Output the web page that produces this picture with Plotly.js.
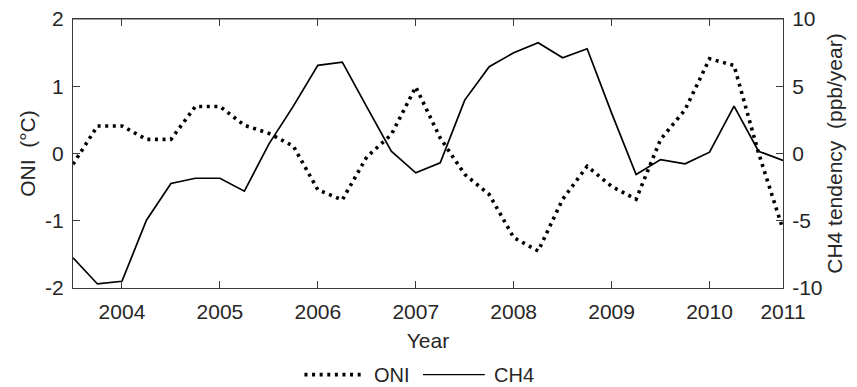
<!DOCTYPE html>
<html>
<head>
<meta charset="utf-8">
<script src="https://cdn.plot.ly/plotly-3.0.1.min.js"></script>
<style>
  html, body { margin: 0; padding: 0; background: #ffffff; }
  #chart { width: 857px; height: 387px; }
</style>
</head>
<body>
<div id="chart"></div>
<script>
// Quarterly time axis (decimal years)
const years = [
  2003.50, 2003.75, 2004.00, 2004.25, 2004.50, 2004.75,
  2005.00, 2005.25, 2005.50, 2005.75, 2006.00, 2006.25,
  2006.50, 2006.75, 2007.00, 2007.25, 2007.50, 2007.75,
  2008.00, 2008.25, 2008.50, 2008.75, 2009.00, 2009.25,
  2009.50, 2009.75, 2010.00, 2010.25, 2010.50, 2010.75
];

// Oceanic Nino Index (deg C)
const oni = [
  -0.16, 0.41, 0.41, 0.21, 0.21, 0.70,
   0.70, 0.42, 0.30, 0.11, -0.54, -0.69,
  -0.05, 0.28, 0.99, 0.23, -0.31, -0.61,
  -1.25, -1.45, -0.68, -0.19, -0.49, -0.68,
   0.21, 0.65, 1.41, 1.31, 0.01, -1.13
];

// CH4 growth tendency (ppb/year)
const ch4 = [
  -7.76, -9.70, -9.50, -4.96, -2.23, -1.84,
  -1.84, -2.80, 0.70, 3.52, 6.55, 6.79,
   3.47, 0.17, -1.44, -0.69, 3.97, 6.45,
   7.49, 8.24, 7.12, 7.79, 3.00, -1.56,
  -0.45, -0.77, 0.10, 3.52, 0.17, -0.52
];

// Axis tick labels
const xTickVals = [2004, 2005, 2006, 2007, 2008, 2009, 2010, 2010.75];
const xTickText = ['2004', '2005', '2006', '2007', '2008', '2009', '2010', '2011'];
const oniTickVals = [-2, -1, 0, 1, 2];
const oniTickText = ['-2', '-1', '0', '1', '2'];
const ch4TickVals = [-10, -5, 0, 5, 10];
const ch4TickText = ['-10', '-5', '0', '5', '10'];

const seriesNames = ['ONI', 'CH4'];

const FONT = 'Liberation Sans, Arial, Helvetica, sans-serif';
const TXT = '#262626';
const AXC = '#3a3a3a';
const FS = 21;
const dotted = '3px,4.6px';

const traces = [
  {
    x: years, y: oni, name: seriesNames[0], type: 'scatter', mode: 'lines',
    yaxis: 'y', line: { color: '#000000', width: 3.6, dash: dotted },
    showlegend: false, hoverinfo: 'skip'
  },
  {
    x: years, y: ch4, name: seriesNames[1], type: 'scatter', mode: 'lines',
    yaxis: 'y2', line: { color: '#000000', width: 1.7 },
    showlegend: false, hoverinfo: 'skip'
  }
];

const axisCommon = {
  showgrid: false, zeroline: false, showline: true,
  linecolor: AXC, linewidth: 1, ticks: 'inside', ticklen: 7,
  tickcolor: AXC, tickwidth: 1,
  tickfont: { family: FONT, size: FS, color: TXT }
};

// Legend row, drawn below the axes
const legendY = -0.322;
const legendFont = { family: FONT, size: 20, color: TXT };

const layout = {
  width: 857, height: 387,
  margin: { l: 73, r: 74, t: 19, b: 99 },
  paper_bgcolor: '#ffffff', plot_bgcolor: '#ffffff',
  font: { family: FONT, color: TXT },
  showlegend: false,
  xaxis: Object.assign({}, axisCommon, {
    range: [2003.5, 2010.75], tickmode: 'array',
    tickvals: xTickVals, ticktext: xTickText, mirror: 'ticks',
    ticklabelstandoff: 5,
    title: { text: 'Year', font: { family: FONT, size: FS, color: TXT }, standoff: 11 }
  }),
  yaxis: Object.assign({}, axisCommon, {
    range: [-2, 2], tickmode: 'array',
    tickvals: oniTickVals, ticktext: oniTickText,
    ticklabelstandoff: 4,
    title: { text: 'ONI\u00a0\u00a0(°C)', font: { family: FONT, size: FS, color: TXT }, standoff: 3 }
  }),
  yaxis2: Object.assign({}, axisCommon, {
    range: [-10, 10], tickmode: 'array',
    tickvals: ch4TickVals, ticktext: ch4TickText,
    overlaying: 'y', side: 'right',
    ticklabelstandoff: 4,
    title: { text: 'CH4 tendency\u00a0\u00a0(ppb/year)', font: { family: FONT, size: FS, color: TXT }, standoff: 5 }
  }),
  shapes: [
    // Top border of the axes box
    { type: 'line', xref: 'paper', yref: 'paper', x0: 0, x1: 1, y0: 1, y1: 1,
      line: { color: AXC, width: 1 } },
    // Legend keys
    { type: 'line', xref: 'paper', yref: 'paper', x0: 0.326, x1: 0.411, y0: legendY, y1: legendY,
      line: { color: '#000000', width: 3.6, dash: dotted } },
    { type: 'line', xref: 'paper', yref: 'paper', x0: 0.493, x1: 0.580, y0: legendY, y1: legendY,
      line: { color: '#000000', width: 1.3 } }
  ],
  annotations: [
    { xref: 'paper', yref: 'paper', x: 0.4225, y: legendY, xanchor: 'left', yanchor: 'middle',
      text: seriesNames[0], showarrow: false, font: legendFont, borderpad: 0 },
    { xref: 'paper', yref: 'paper', x: 0.5915, y: legendY, xanchor: 'left', yanchor: 'middle',
      text: seriesNames[1], showarrow: false, font: legendFont, borderpad: 0 }
  ]
};

Plotly.newPlot('chart', traces, layout, { staticPlot: true, displayModeBar: false });
</script>
</body>
</html>
